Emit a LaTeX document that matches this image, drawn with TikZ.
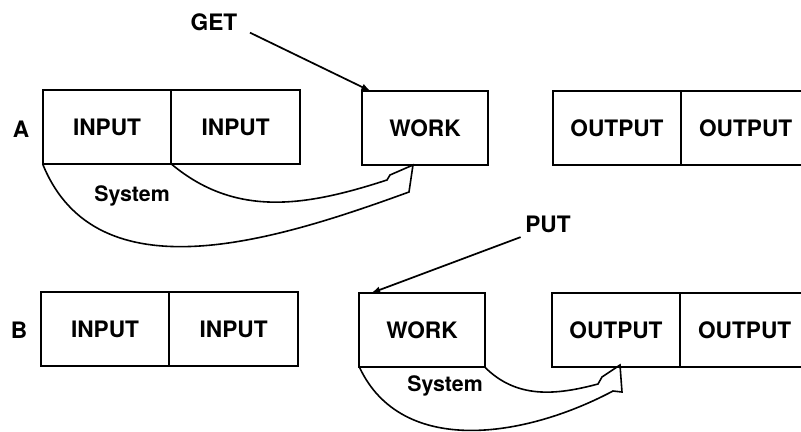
\documentclass[tikz,border=0pt]{standalone}
\usepackage{fontspec}
\setmainfont{TeX Gyre Heros}
\usetikzlibrary{arrows,shapes,positioning}
\begin{document}
\begin{tikzpicture}
        [
            x=0.75pt, y=-0.75pt,
            cell/.style={rectangle, draw, line width=1.3pt, outer sep=0pt, inner sep=0pt,
                minimum height=55.5pt, font=\fontsize{17}{20}\selectfont\bfseries},
            inbox/.style={cell, minimum width=96.5pt},
            workbox/.style={cell, minimum width=94pt},
            outbox/.style={cell, minimum width=96.5pt},
            tag/.style={font=\fontsize{17}{20}\selectfont\bfseries},
            sys/.style={font=\fontsize{16}{20}\selectfont\bfseries},
            fat/.style={line width=1.2pt, line join=miter},
        ]
            \useasboundingbox (0,0) rectangle (801,432);

            % row A
            \node[tag] (rowA) at (21,129) {A};
            \node[inbox] (inA1) at (107,127) {INPUT};
            \node[inbox, right=0pt of inA1] (inA2) {INPUT};
            \node[workbox] (wkA) at (425,128) {WORK};
            \node[outbox] (outA1) at (617,128) {OUTPUT};
            \node[outbox, right=0pt of outA1] (outA2) {OUTPUT};
            \node[tag] (get) at (214,22) {GET};
            \node[sys] (sysA) at (132,196) {System};

            % row B
            \node[tag] (rowB) at (19,330) {B};
            \node[inbox] (inB1) at (105,329) {INPUT};
            \node[inbox, right=0pt of inB1] (inB2) {INPUT};
            \node[workbox] (wkB) at (422,330) {WORK};
            \node[outbox] (outB1) at (616,330) {OUTPUT};
            \node[outbox, right=0pt of outB1] (outB2) {OUTPUT};
            \node[tag] (put) at (548,224) {PUT};
            \node[sys] (sysB) at (445,386) {System};

            % GET and PUT
            \coordinate[below right=8pt and 6pt of get.east] (getFrom);
            \coordinate[right=6pt of wkA.north west] (getTip);
            \coordinate[right=9pt of wkB.north west] (putTip);
            \draw[-latex, line width=1.3pt] (getFrom) -- (getTip);
            \draw[-latex, line width=1.3pt] (put.south west) -- (putTip);

            % system move A: input -> work
            \coordinate (tipA) at (413,165);
            \draw[fat] (inA1.south west) to [out=-68,in=200] (409,192) -- (tipA)
                -- (390,175) -- (387,180) to [out=198,in=-40] (inA1.south east);

            % system move B: work -> output
            \coordinate (tipB) at (620,365);
            \draw[fat] (wkB.south west) to [out=-65,in=208, looseness=1.0] (613,391) -- (622,392) -- (tipB)
                -- (602,377) -- (598,384) to [out=195,in=-45] (wkB.south east);
        \end{tikzpicture}
\end{document}
